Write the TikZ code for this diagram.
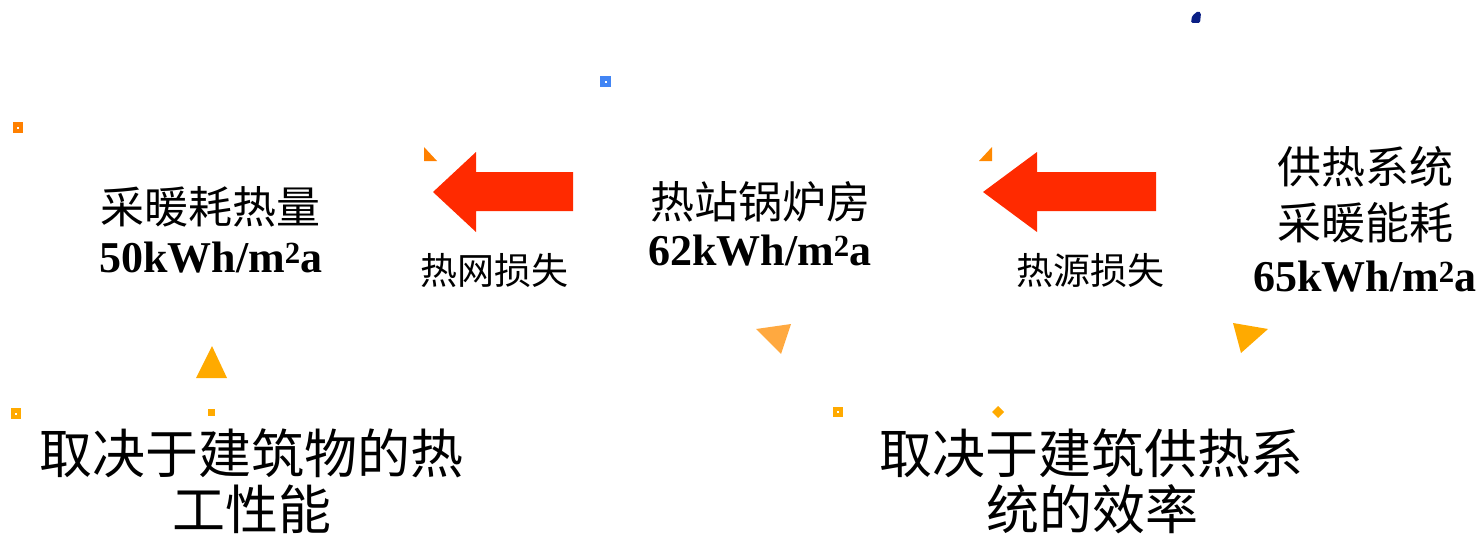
\documentclass[tikz,border=0pt]{standalone}
\usepackage{fontspec}
\setmainfont{Liberation Serif}
\newfontfamily\cjk{Noto Sans CJK SC}
\definecolor{arrowred}{HTML}{FF2A00}
\definecolor{orgA}{HTML}{FF8000}
\definecolor{orgB}{HTML}{FFAA00}
\definecolor{orgC}{HTML}{FFA940}
\definecolor{blueA}{HTML}{4285F4}
\definecolor{navyA}{HTML}{0A1F85}
\begin{document}
\begin{tikzpicture}[x=1pt,y=-1pt,
  cjkl/.style={inner sep=0pt,font=\cjk\fontsize{44}{48}\selectfont},
  cjks/.style={inner sep=0pt,font=\cjk\fontsize{37}{40}\selectfont},
  cjkb/.style={inner sep=0pt,font=\cjk\fontsize{53}{58}\selectfont},
  val/.style={inner sep=0pt,font=\bfseries\fontsize{44}{48}\selectfont},
  bigarrow/.style={fill=arrowred,draw=none}]
\useasboundingbox (0,0) rectangle (1483,535);
% left group
\node[cjkl] (t1) at (210,207) {采暖耗热量};
\node[val] (v1) at (211,258) {50kWh/m\textsuperscript{2}a};
\node[cjks] (l1) at (494,270) {热网损失};
% middle group
\node[cjkl] (t2) at (760,202) {热站锅炉房};
\node[val] (v2) at (760,251) {62kWh/m\textsuperscript{2}a};
\node[cjks] (l2) at (1090,270) {热源损失};
% right group
\node[cjkl] (t3a) at (1365,167) {供热系统};
\node[cjkl] (t3b) at (1365,223) {采暖能耗};
\node[val] (v3) at (1365,277) {65kWh/m\textsuperscript{2}a};
% bottom texts
\node[cjkb] (b1a) at (251,453) {取决于建筑物的热};
\node[cjkb] (b1b) at (252,509) {工性能};
\node[cjkb] (b2a) at (1091,453) {取决于建筑供热系};
\node[cjkb] (b2b) at (1092,509) {统的效率};
% big arrows
\fill[bigarrow] (573,172) -- (476,172) -- (476,152) -- (433,192) -- (476,232) -- (476,211) -- (573,211) -- cycle;
\fill[bigarrow] (1156,172) -- (1037,172) -- (1037,152) -- (983,192) -- (1037,232) -- (1037,211) -- (1156,211) -- cycle;
% small orange corner triangles
\fill[orgA] (424,147) -- (424,161) -- (437,161) -- cycle;
\fill[orgA!80!orgB] (979,161) -- (992,161) -- (992,147) -- cycle;
% triangles
\fill[orgC] (756,329) -- (791,324) -- (781,354) -- cycle;
\fill[orgB] (1233,323) -- (1268,329) -- (1241,353) -- cycle;
\fill[orgB] (196,378) -- (227,378) -- (212,346) -- cycle;
% small squares
\fill[blueA] (600,76) rectangle (611,87);
\fill[white] (604.5,80.5) rectangle (606.5,82.5);
\fill[orgA] (13,122) rectangle (23,133);
\fill[white] (17,126.5) rectangle (19,128.5);
\fill[orgB] (11,408) rectangle (21,419);
\fill[white] (15,412.5) rectangle (17,414.5);
\fill[orgB] (208,409) rectangle (215,416);
\fill[orgB] (833,407) rectangle (843,417);
\fill[white] (837,411) rectangle (839,413);
\fill[orgB] (998,406) -- (1004,412) -- (998,418) -- (992,412) -- cycle;
% navy mark
\fill[navyA, rounded corners=1.5pt] (1191,23) -- (1192,16) -- (1198,11) -- (1201,13) -- (1200,23) -- cycle;
\end{tikzpicture}
\end{document}
